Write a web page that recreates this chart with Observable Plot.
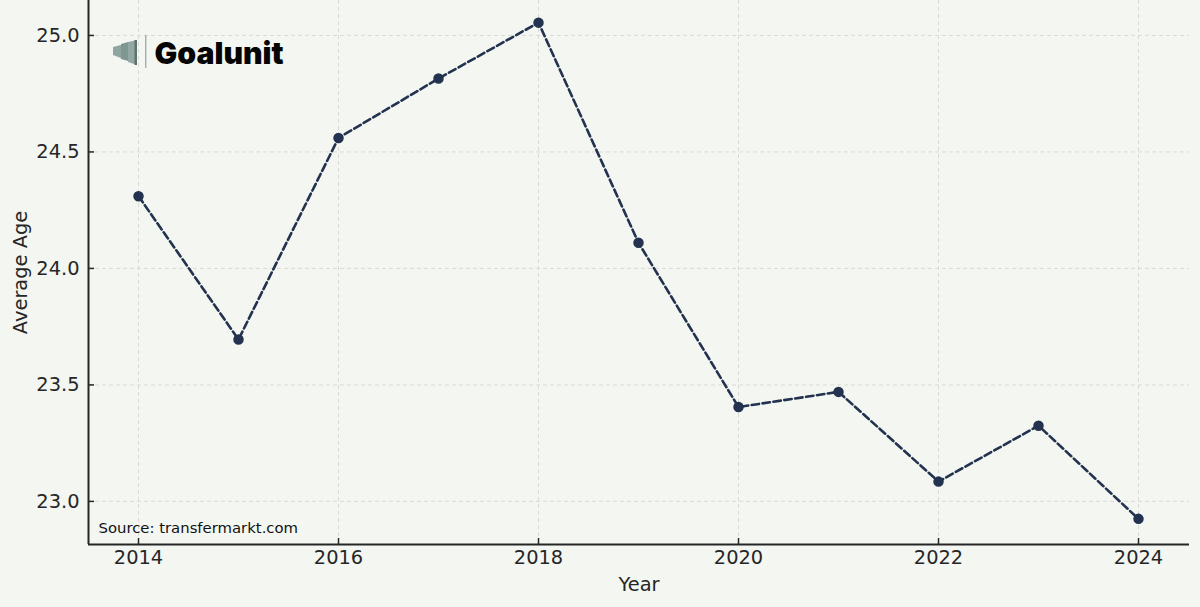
<!DOCTYPE html>
<html><head><meta charset="utf-8">
<script src="https://cdn.jsdelivr.net/npm/d3@7"></script>
<script src="https://cdn.jsdelivr.net/npm/@observablehq/plot@0.6"></script>
<style>
html,body{margin:0;padding:0;background:#f4f6f1;overflow:hidden}
#c{position:relative;width:1200px;height:607px}
#logo{position:absolute;left:112px;top:34px}
</style></head><body>
<div id="c"></div>
<script>
const years = [2014,2015,2016,2017,2018,2019,2020,2021,2022,2023,2024];
const ages = [24.31,23.695,24.56,24.815,25.055,24.11,23.405,23.47,23.085,23.325,22.925];
const xTicks = [2014,2016,2018,2020,2022,2024];
const yTicks = [23,23.5,24,24.5,25];
const table = years.map((y,i)=>({year:y,age:ages[i]}));
const ink = "#262626", navy = "#22324f", grid = "#d6d8d4";
const font = "'DejaVu Sans', sans-serif";

const plot = Plot.plot({
  width:1200, height:607,
  marginLeft:88, marginRight:11, marginTop:0, marginBottom:63,
  style:{background:"transparent", fontFamily:font, fontSize:"19.4px", color:ink},
  x:{domain:[2013.5,2024.51]},
  y:{domain:[22.815,25.15]},
  marks:[
    Plot.gridX(d3.range(2014,2025,2),{stroke:grid,strokeOpacity:1,strokeDasharray:"4 3",strokeWidth:0.9}),
    Plot.gridY(yTicks,{stroke:grid,strokeOpacity:1,strokeDasharray:"4 3",strokeWidth:0.9}),
    Plot.ruleX([2013.5],{stroke:ink,strokeWidth:2}),
    Plot.ruleY([22.815],{stroke:ink,strokeWidth:2}),
    Plot.axisX({ticks:xTicks,tickFormat:d=>String(d),tickSize:-6,tickPadding:12,stroke:ink,strokeWidth:1.5,label:"Year",labelAnchor:"center",labelArrow:"none",labelOffset:46,fontSize:19.4,fill:ink}),
    Plot.axisY({ticks:yTicks,tickFormat:d=>d.toFixed(1),tickSize:-6,tickPadding:15,stroke:ink,strokeWidth:1.5,label:"Average Age",labelAnchor:"center",labelArrow:"none",labelOffset:75,fontSize:19.4,fill:ink}),
    Plot.line(table,{x:"year",y:"age",stroke:navy,strokeWidth:2.6,strokeDasharray:"7.5 3.5"}),
    Plot.dot(table,{x:"year",y:"age",r:4.5,fill:navy,stroke:navy}),
    Plot.text(["Source: transfermarkt.com"],{frameAnchor:"bottom-left",dx:10,dy:-12,fontSize:14.85,fill:"#111",textAnchor:"start"}),
    Plot.text(["Goalunit"],{frameAnchor:"top-left",dx:66,dy:42,fontSize:30.2,fontWeight:900,fontFamily:"Inter, sans-serif",fill:"#050505",textAnchor:"start",lineAnchor:"top"})
  ]
});
document.getElementById("c").appendChild(plot);
document.getElementById("c").insertAdjacentHTML("beforeend",
`<svg id="logo" width="36" height="36" viewBox="0 0 36 36">
<polygon points="1,13 9,11 9,24 1,21" fill="#8fa5a0"/>
<polygon points="9,10 16,8 16,27 9,25" fill="#7f9691"/>
<polygon points="16,8 25,6 25,31 16,28" fill="#93a8a3"/>
<rect x="22.5" y="6" width="2.5" height="25" fill="#5d736e"/>
<rect x="33" y="1" width="1.4" height="33" fill="#9db3ac"/>
</svg>`);
</script>
</body></html>
